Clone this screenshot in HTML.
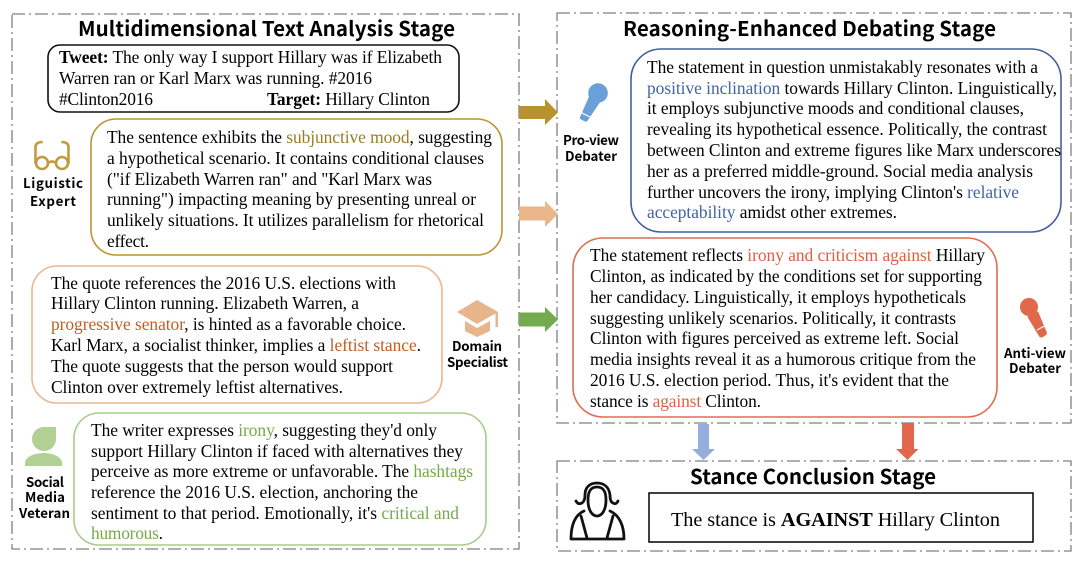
<!DOCTYPE html>
<html>
<head>
<meta charset="utf-8">
<style>
html,body{margin:0;padding:0;background:#fff;width:1080px;height:564px;overflow:hidden}
svg{display:block;filter:blur(.35px)}
.b{font-family:"Liberation Serif",serif;font-size:17.400px;fill:#000}
.h{font-family:"Noto Sans CJK SC","Liberation Sans",sans-serif;font-weight:700;font-size:20.500px;fill:#000}
.l{font-family:"Noto Sans CJK SC","Liberation Sans",sans-serif;font-weight:700;font-size:13.300px;fill:#000}
.frame{fill:none;stroke:#808080;stroke-width:1.300;stroke-dasharray:13 4 2 4}
.box{fill:#fff;stroke-width:1.600}
.go{fill:#9c7c22}.or{fill:#c25e24}.gr{fill:#74aa4c}.bl{fill:#4163a8}.re{fill:#e05f44}
</style>
</head>
<body>
<svg width="1080" height="564" viewBox="0 0 1080 564" xmlns="http://www.w3.org/2000/svg">
<rect class="frame" x="12" y="14" width="507" height="535"/>
<rect class="frame" x="557" y="13" width="514" height="410"/>
<rect class="frame" x="557" y="461" width="514" height="90"/>

<text class="h" x="78" y="36" textLength="377">Multidimensional Text Analysis Stage</text>
<text class="h" x="623" y="36" textLength="373">Reasoning-Enhanced Debating Stage</text>
<text class="h" x="690" y="484" textLength="246">Stance Conclusion Stage</text>

<rect class="box" x="48" y="45" width="411" height="67" rx="12" stroke="#111"/>
<text class="b" x="59" y="63" textLength="383"><tspan font-weight="700">Tweet:</tspan> The only way I support Hillary was if Elizabeth</text>
<text class="b" x="59" y="84" textLength="313">Warren ran or Karl Marx was running. #2016</text>
<text class="b" x="59" y="105" textLength="94">#Clinton2016</text>
<text class="b" x="267" y="105" textLength="163"><tspan font-weight="700">Target:</tspan> Hillary Clinton</text>

<rect class="box" x="91" y="119" width="411" height="136" rx="25" stroke="#bb9434"/>
<text class="b" x="107" y="143" textLength="385">The sentence exhibits the <tspan class="go">subjunctive mood</tspan>, suggesting</text>
<text class="b" x="107" y="164" textLength="377">a hypothetical scenario. It contains conditional clauses</text>
<text class="b" x="107" y="185" textLength="325">("if Elizabeth Warren ran" and "Karl Marx was</text>
<text class="b" x="107" y="205" textLength="369">running") impacting meaning by presenting unreal or</text>
<text class="b" x="107" y="226" textLength="377">unlikely situations. It utilizes parallelism for rhetorical</text>
<text class="b" x="107" y="247" textLength="42">effect.</text>

<rect class="box" x="32" y="266" width="410" height="137" rx="25" stroke="#ecb690"/>
<text class="b" x="51" y="289" textLength="345">The quote references the 2016 U.S. elections with</text>
<text class="b" x="51" y="309" textLength="308">Hillary Clinton running. Elizabeth Warren, a</text>
<text class="b" x="51" y="330" textLength="355"><tspan class="or">progressive senator</tspan>, is hinted as a favorable choice.</text>
<text class="b" x="51" y="351" textLength="370">Karl Marx, a socialist thinker, implies a <tspan class="or">leftist stance</tspan>.</text>
<text class="b" x="51" y="372" textLength="342">The quote suggests that the person would support</text>
<text class="b" x="51" y="393" textLength="292">Clinton over extremely leftist alternatives.</text>

<rect class="box" x="74" y="413" width="412" height="132" rx="25" stroke="#a8cc8c"/>
<text class="b" x="91" y="436" textLength="346">The writer expresses <tspan class="gr">irony</tspan>, suggesting they'd only</text>
<text class="b" x="91" y="457" textLength="372">support Hillary Clinton if faced with alternatives they</text>
<text class="b" x="91" y="477" textLength="382">perceive as more extreme or unfavorable. The <tspan class="gr">hashtags</tspan></text>
<text class="b" x="91" y="498" textLength="327">reference the 2016 U.S. election, anchoring the</text>
<text class="b" x="91" y="519" textLength="368">sentiment to that period. Emotionally, it's <tspan class="gr">critical and</tspan></text>
<text class="b" x="91" y="539" textLength="72"><tspan class="gr">humorous</tspan>.</text>

<rect class="box" x="631" y="49" width="430" height="183" rx="30" stroke="#42609f"/>
<text class="b" x="647" y="73" textLength="391">The statement in question unmistakably resonates with a</text>
<text class="b" x="647" y="94" textLength="410"><tspan class="bl">positive inclination</tspan> towards Hillary Clinton. Linguistically,</text>
<text class="b" x="647" y="114" textLength="377">it employs subjunctive moods and conditional clauses,</text>
<text class="b" x="647" y="135" textLength="400">revealing its hypothetical essence. Politically, the contrast</text>
<text class="b" x="647" y="156" textLength="414">between Clinton and extreme figures like Marx underscores</text>
<text class="b" x="647" y="177" textLength="386">her as a preferred middle-ground. Social media analysis</text>
<text class="b" x="647" y="198" textLength="372">further uncovers the irony, implying Clinton's <tspan class="bl">relative</tspan></text>
<text class="b" x="647" y="218" textLength="250"><tspan class="bl">acceptability</tspan> amidst other extremes.</text>

<rect class="box" x="573" y="238" width="424" height="179" rx="30" stroke="#e06c52"/>
<text class="b" x="590" y="261" textLength="395">The statement reflects <tspan class="re">irony and criticism against</tspan> Hillary</text>
<text class="b" x="590" y="282" textLength="392">Clinton, as indicated by the conditions set for supporting</text>
<text class="b" x="590" y="303" textLength="376">her candidacy. Linguistically, it employs hypotheticals</text>
<text class="b" x="590" y="324" textLength="366">suggesting unlikely scenarios. Politically, it contrasts</text>
<text class="b" x="590" y="344" textLength="369">Clinton with figures perceived as extreme left. Social</text>
<text class="b" x="590" y="365" textLength="386">media insights reveal it as a humorous critique from the</text>
<text class="b" x="590" y="386" textLength="359">2016 U.S. election period. Thus, it's evident that the</text>
<text class="b" x="590" y="407" textLength="171">stance is <tspan class="re">against</tspan> Clinton.</text>

<rect x="649" y="493" width="384" height="49" fill="#fff" stroke="#111" stroke-width="1.600"/>
<text class="b" style="font-size:20.300px" x="671" y="526" textLength="329">The stance is <tspan font-weight="700">AGAINST</tspan> Hillary Clinton</text>

<text class="l" x="23" y="188" textLength="60">Liguistic</text>
<text class="l" x="30" y="206" textLength="46">Expert</text>
<text class="l" x="452" y="351" textLength="50">Domain</text>
<text class="l" x="447" y="367" textLength="61">Specialist</text>
<text class="l" x="26" y="487" textLength="38">Social</text>
<text class="l" x="25" y="502" textLength="40">Media</text>
<text class="l" x="19" y="518" textLength="51">Veteran</text>
<text class="l" x="563" y="145" textLength="56">Pro-view</text>
<text class="l" x="565" y="161" textLength="52">Debater</text>
<text class="l" x="1004" y="358" textLength="62">Anti-view</text>
<text class="l" x="1009" y="373" textLength="52">Debater</text>

<!-- arrows -->
<path d="M519 106H545V99L558 112.500L545 125V119H519Z" fill="#b8922c"/>
<path d="M519 206.500H545V201L558 214L545 227V220.500H519Z" fill="#eab68c"/>
<path d="M519 312.500H545V307L558 319.500L545 332V326.500H519Z" fill="#74ab4f"/>
<path d="M698 424H709V449H715L703.500 460L692 449H698Z" fill="#95aede"/>
<path d="M902 423H914V449H918.500L907.500 460L896 449H902Z" fill="#e2674c"/>

<!-- glasses -->
<g fill="none" stroke="#c29b3c" stroke-width="2.600" stroke-linecap="round">
<circle cx="42" cy="163" r="6"/>
<circle cx="62" cy="163" r="6"/>
<path d="M48 163Q52 160 56 163"/>
<path d="M35.500 163V147Q35.500 142.500 41.500 142"/>
<path d="M68.500 163V147Q68.500 142.500 62.500 142"/>
</g>

<!-- graduation cap -->
<path d="M477 300L498 312L477 324L457 312Z" fill="#e8b48a"/>
<path d="M465 321L477 328L490 321V331L477 337L465 331Z" fill="#e8b48a"/>
<rect x="495.500" y="312" width="2.500" height="15" fill="#e8b48a"/>

<!-- person -->
<path d="M56 427V439A12 12 0 1 1 44 427Z" fill="#b0d094"/>
<path d="M25 466V463A18.500 10 0 0 1 62 463V466Z" fill="#b0d094"/>

<!-- blue mic -->
<path d="M604 96.400L592 89.600L580.500 116Q579 118.500 581 119.500L585 121.500Q587 122 588 120Z" fill="#6a9fd8"/>
<circle cx="598" cy="93" r="9.800" fill="#6a9fd8"/>
<path d="M581 112.500L590 117" stroke="#fff" stroke-width="1.200"/>

<!-- red mic -->
<path d="M1038 311.300L1027.300 316.700L1039.400 336.800Q1041 338 1043 337L1046 335Q1047.500 333.500 1046.600 332Z" fill="#e0694b"/>
<circle cx="1029" cy="307" r="9" fill="#e0694b"/>
<path d="M1037 330L1045.500 325.500" stroke="#fff" stroke-width="1.200"/>

<!-- judge -->
<g fill="none" stroke="#111" stroke-width="2.800" stroke-linejoin="round" stroke-linecap="round">
<path d="M576 501Q578 505 582 503Q585 501 585 495C585 487 590 483 597 483C604 483 609 487 610 495Q610 502 613 503Q616 505 618 501"/>
<path d="M588 500C588 491 591 487 597 487C603 487 606 491 606 500C606 510 602 516 597 516C592 516 588 510 588 500Z"/>
<path d="M584 511C575 515 571 525 571 539H624C624 525 619 515 610 511"/>
<path d="M581 516L587 538M613 516L607 538"/>
</g>
</svg>
</body>
</html>
